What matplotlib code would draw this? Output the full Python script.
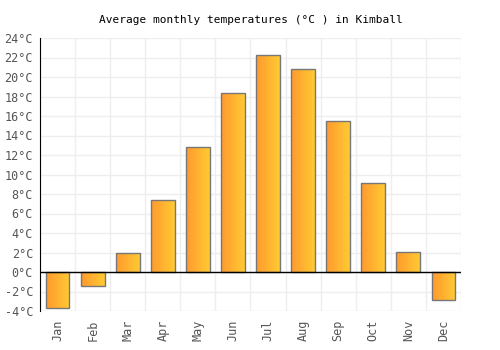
import matplotlib
matplotlib.use("Agg")
import matplotlib.pyplot as plt
import numpy as np
from matplotlib.colors import LinearSegmentedColormap

months = ["Jan", "Feb", "Mar", "Apr", "May", "Jun", "Jul", "Aug", "Sep", "Oct", "Nov", "Dec"]
temps = [-3.7, -1.4, 1.9, 7.4, 12.8, 18.4, 22.3, 20.8, 15.5, 9.1, 2.1, -2.9]
yticks = list(range(-4, 25, 2))
ylabels = ["%d°C" % t for t in yticks]

plt.rcParams["font.family"] = ["DejaVu Sans Mono"]

fig = plt.figure(figsize=(5, 3.5), dpi=100)
ax = fig.add_axes([40 / 500, 39 / 350, 421 / 500, 273 / 350])

x = np.arange(len(months))
bars = ax.bar(x, temps, width=0.68, color="none", edgecolor="#777777", linewidth=1, zorder=3)

cmap = LinearSegmentedColormap.from_list("og", ["#ff9a2e", "#ffca33"])
grad = np.linspace(0, 1, 64).reshape(1, -1)
for b in bars:
    x0, y0 = b.get_x(), b.get_y()
    w, h = b.get_width(), b.get_height()
    im = ax.imshow(grad, cmap=cmap, aspect="auto", extent=[x0, x0 + w, y0, y0 + h], zorder=2)
    im.set_clip_path(b)

ax.set_xlim(-0.5, len(months) - 0.5)
ax.set_ylim(-4, 24)
ax.set_yticks(yticks)
ax.set_yticklabels(ylabels)
ax.set_xticks(x)
ax.set_xticklabels(months, rotation=90)
ax.set_xticks(np.arange(-0.5, len(months), 1), minor=True)
ax.grid(True, which="minor", axis="x", color="#eeeeee", linewidth=1, zorder=0)
ax.grid(True, which="major", axis="y", color="#eeeeee", linewidth=1, zorder=0)
ax.tick_params(axis="both", which="both", length=0, colors="#555555", labelsize=8.5)
ax.tick_params(axis="x", pad=6)
ax.tick_params(axis="y", pad=5)
ax.axhline(0, color="black", linewidth=1, zorder=4)

for s in ["top", "right", "bottom"]:
    ax.spines[s].set_visible(False)
ax.spines["left"].set_color("black")

ax.set_title("Average monthly temperatures (°C ) in Kimball", fontsize=8, pad=11)

fig.savefig("out.png", dpi=100)
